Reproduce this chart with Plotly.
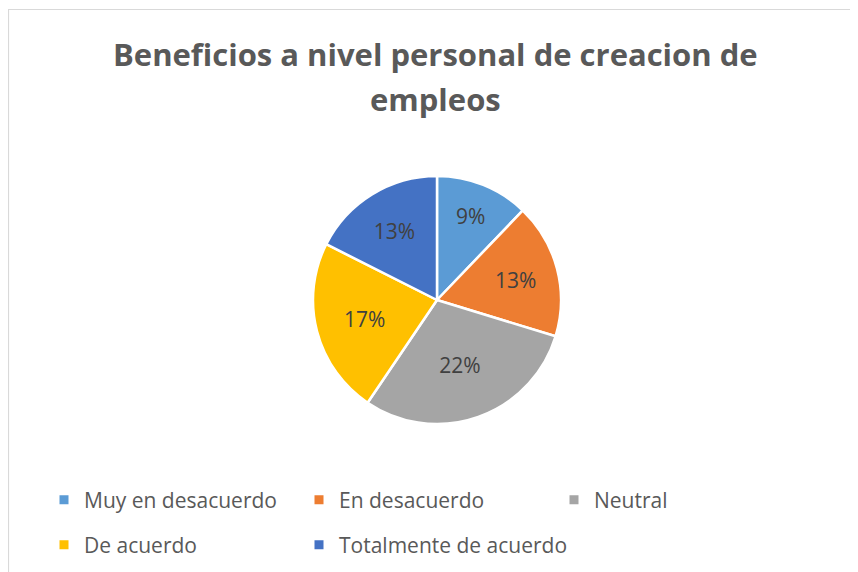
import plotly.graph_objects as go

categories = ["Muy en desacuerdo", "En desacuerdo", "Neutral", "De acuerdo", "Totalmente de acuerdo"]
values = [9, 13, 22, 17, 13]
colors = ["#5B9BD5", "#ED7D31", "#A5A5A5", "#FFC000", "#4472C4"]
title_lines = ["Beneficios a nivel personal de creacion de", "empleos"]

W, H = 858, 572
# page body adds an 8px offset; positions below are in figure pixels
cx, cy, r = 429, 292, 124
FONT = "Open Sans"

fig = go.Figure()
fig.add_trace(go.Pie(
    labels=categories,
    values=values,
    sort=False,
    direction="clockwise",
    rotation=0,
    showlegend=False,
    marker=dict(colors=colors, line=dict(color="white", width=2.5)),
    texttemplate="%{value}%",
    textposition="inside",
    insidetextorientation="horizontal",
    textfont=dict(family=FONT, size=21, color="#404040"),
    hoverinfo="label+value",
    domain=dict(x=[(cx - 170) / W, (cx + 170) / W],
                y=[1 - (cy + r) / H, 1 - (cy - r) / H]),
))

# legend entries laid out as in the original (3 on the first row, 2 on the second)
legend_ids = ["legend", "legend", "legend", "legend2", "legend3"]
for cat, col, lg in zip(categories, colors, legend_ids):
    fig.add_trace(go.Scatter(
        x=[None], y=[None], mode="markers", name=cat,
        marker=dict(symbol="square", size=9, color=col),
        legend=lg, hoverinfo="skip",
    ))

legend_common = dict(orientation="h", xanchor="left", yanchor="middle",
                     font=dict(family=FONT, size=21, color="#595959"),
                     itemwidth=30, traceorder="normal", bgcolor="rgba(0,0,0,0)")

fig.update_layout(
    width=W, height=H,
    margin=dict(l=0, r=0, t=0, b=0),
    paper_bgcolor="white",
    plot_bgcolor="white",
    font=dict(family=FONT, color="#595959"),
    xaxis=dict(visible=False),
    yaxis=dict(visible=False),
    legend=dict(x=36 / W, y=1 - 492 / H, entrywidth=210, entrywidthmode="pixels", **legend_common),
    legend2=dict(x=36 / W, y=1 - 537 / H, **legend_common),
    legend3=dict(x=291 / W, y=1 - 537 / H, **legend_common),
    annotations=[
        dict(text=title_lines[0], x=427.5 / W, y=1 - 46 / H, xref="paper", yref="paper",
             xanchor="center", yanchor="middle", showarrow=False,
             font=dict(family=FONT, size=31, color="#595959", weight="bold")),
        dict(text=title_lines[1], x=427.5 / W, y=1 - 91 / H, xref="paper", yref="paper",
             xanchor="center", yanchor="middle", showarrow=False,
             font=dict(family=FONT, size=31, color="#595959", weight="bold")),
    ],
    shapes=[dict(type="rect", xref="paper", yref="paper",
                 x0=0.5 / W, x1=1.02, y0=-0.05, y1=1 - 1.5 / H,
                 line=dict(color="#D9D9D9", width=1.2), fillcolor="rgba(0,0,0,0)")],
)

fig.write_html("out.html")
